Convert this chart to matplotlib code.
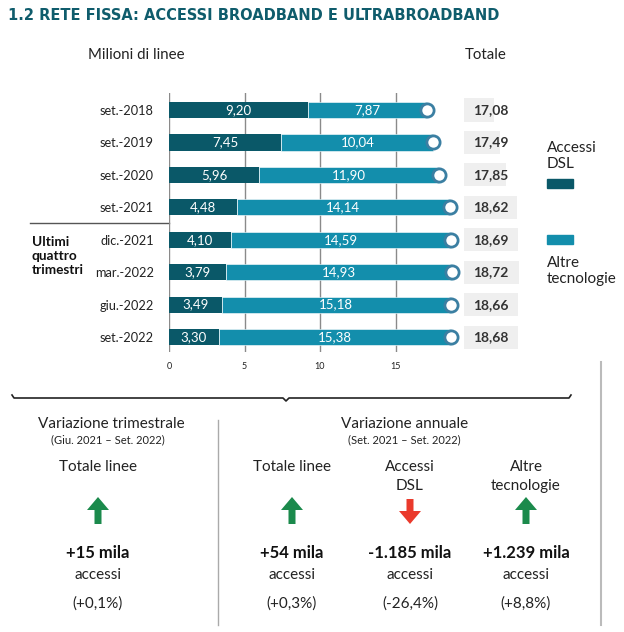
import matplotlib.pyplot as plt
from matplotlib import font_manager
import numpy as np

# data
periodi = ['set.-2018', 'set.-2019', 'set.-2020', 'set.-2021',
           'dic.-2021', 'mar.-2022', 'giu.-2022', 'set.-2022']
dsl = [9.20, 7.45, 5.96, 4.48, 4.10, 3.79, 3.49, 3.30]
altre = [7.87, 10.04, 11.90, 14.14, 14.59, 14.93, 15.18, 15.38]
totale = [17.08, 17.49, 17.85, 18.62, 18.69, 18.72, 18.66, 18.68]
xticks = [0, 5, 10, 15]

def fmt(v):
    return f'{v:.2f}'.replace('.', ',')

FONT = ['Lato', 'DejaVu Sans']
plt.rcParams['font.family'] = FONT

C_DSL = '#0a5868'
C_ALT = '#138eac'
C_RING = '#3b7fa2'
TXT = '#222222'

# pick a condensed bold face for the title if one is installed
title_family, title_stretch = 'Roboto', 'normal'
for f in font_manager.fontManager.ttflist:
    if f.stretch in ('condensed', 'semi-condensed', 'extra-condensed', 'narrow') \
            or 'Narrow' in f.name or 'Condensed' in f.name:
        title_family, title_stretch = f.name, f.stretch
        break

W, H = 624, 632
fig = plt.figure(figsize=(W / 100, H / 100), dpi=100)

# overlay in pixel coordinates for the non-chart elements
ov = fig.add_axes([0, 0, 1, 1])
ov.set_xlim(0, W)
ov.set_ylim(H, 0)
ov.axis('off')

# chart axes
px = 15.1  # pixels per million
ax = fig.add_axes([169 / W, (H - 352) / H, 361 / W, 259 / H])
ax.set_xlim(0, 361 / px)
ax.set_ylim(7.46, -0.524)
for s in ax.spines.values():
    s.set_visible(False)
ax.patch.set_alpha(0)

y = np.arange(len(periodi))
for xv in xticks:
    ax.axvline(xv, color='#8a8a8a', lw=1, zorder=0)
ax.barh(y, dsl, height=0.5, color=C_DSL, zorder=2)
ax.barh(y, altre, left=dsl, height=0.5, color=C_ALT, zorder=2,
        edgecolor='white', linewidth=0.4)
ax.plot(totale, y, 'o', ms=9.5, mfc='white', mec=C_RING, mew=2.0,
        zorder=3, clip_on=False)

box_x = (464 - 169) / px
for i in range(len(periodi)):
    ax.text(dsl[i] / 2, y[i], fmt(dsl[i]), color='white', fontsize=9.5,
            ha='center', va='center', zorder=4)
    ax.text(dsl[i] + altre[i] / 2, y[i], fmt(altre[i]), color='white',
            fontsize=9.5, ha='center', va='center', zorder=4)
    # grey box with total
    ax.barh(y[i], totale[i] - 15.1, left=box_x, height=0.71,
            color='#efefef', zorder=1, clip_on=False)
    ax.text(box_x + 0.6, y[i], fmt(totale[i]), color='#333333',
            fontsize=10, fontweight='bold', ha='left', va='center', zorder=4)

ax.set_xticks(xticks)
ax.set_xticklabels([str(t) for t in xticks], fontsize=6.5, color=TXT)
ax.set_yticks(y)
ax.set_yticklabels(periodi, fontsize=9.2, color=TXT)
ax.tick_params(axis='x', length=0, pad=7)
ax.tick_params(axis='y', length=0, pad=11)

# title, fitted to the reference width
title = ov.text(8, 15, '1.2 RETE FISSA: ACCESSI BROADBAND E ULTRABROADBAND',
                family=title_family, fontstretch=title_stretch,
                fontweight='bold', fontsize=15, color='#0f5c6c',
                ha='left', va='center')
r = fig.canvas.get_renderer()
tw = title.get_window_extent(r).width
title.set_fontsize(min(17, 15 * 490 / tw))

ov.text(88, 55, 'Milioni di linee', fontsize=10.8, color=TXT, ha='left', va='center')
ov.text(486, 55, 'Totale', fontsize=10.8, color=TXT, ha='center', va='center')

# legend
ov.add_patch(plt.Rectangle((547, 179), 26, 9, color=C_DSL))
ov.text(547, 156, 'Accessi\nDSL', fontsize=11, color=TXT, ha='left',
        va='center', linespacing=1.15)
ov.add_patch(plt.Rectangle((547, 235), 26, 9, color=C_ALT))
ov.text(547, 271, 'Altre\ntecnologie', fontsize=11, color=TXT, ha='left',
        va='center', linespacing=1.15)

# left annotation
ov.plot([30, 169], [223, 223], color='#555555', lw=1)
ov.text(32, 256, 'Ultimi\nquattro\ntrimestri', fontsize=9.8, fontweight='bold',
        color='#111111', ha='left', va='center', linespacing=1.2)

# brace and separators
ov.plot([12, 14, 283, 286, 289, 569, 571], [395, 398, 398, 401, 398, 398, 395],
        color='#222222', lw=1.2)
ov.plot([601, 601], [362, 625], color='#bbbbbb', lw=1.5)
ov.plot([218, 218], [420, 625], color='#aaaaaa', lw=1)

# bottom panel
ov.text(111, 424, 'Variazione trimestrale', fontsize=11, color=TXT, ha='center', va='center')
ov.text(108, 440, '(Giu. 2021 \u2013 Set. 2022)', fontsize=8, color=TXT, ha='center', va='center')
ov.text(405, 424, 'Variazione annuale', fontsize=11, color=TXT, ha='center', va='center')
ov.text(404, 440, '(Set. 2021 \u2013 Set. 2022)', fontsize=8, color=TXT, ha='center', va='center')

col_x = [98, 292, 410, 526]
heads = ['Totale linee', 'Totale linee', 'Accessi\nDSL', 'Altre\ntecnologie']
valori = ['+15 mila', '+54 mila', '-1.185 mila', '+1.239 mila']
perc = ['(+0,1%)', '(+0,3%)', '(-26,4%)', '(+8,8%)']
up = [True, True, False, True]

for cx, hd, v, p, u in zip(col_x, heads, valori, perc, up):
    ov.text(cx, 460, hd, fontsize=11, color=TXT, ha='center', va='top',
            linespacing=1.45)
    if u:
        ov.arrow(cx, 524, 0, -27, width=7, head_width=22, head_length=13,
                 length_includes_head=True, color='#1b8a4c', lw=0)
    else:
        ov.arrow(cx, 499, 0, 25, width=7, head_width=22, head_length=13,
                 length_includes_head=True, color='#ea3a2c', lw=0)
    ov.text(cx, 553, v, fontsize=12, fontweight='bold', color='#111111',
            ha='center', va='center')
    ov.text(cx, 575, 'accessi', fontsize=11, color=TXT, ha='center', va='center')
    ov.text(cx, 604, p, fontsize=11, color=TXT, ha='center', va='center')

fig.savefig('out.png', dpi=100)
